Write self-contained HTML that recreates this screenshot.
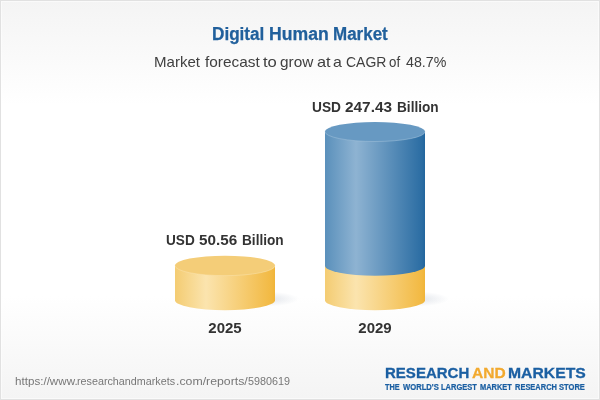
<!DOCTYPE html>
<html>
<head>
<meta charset="utf-8">
<title>Digital Human Market</title>
<style>
html,body{margin:0;padding:0;}
body{width:600px;height:400px;overflow:hidden;position:relative;font-family:"Liberation Sans",sans-serif;background:#fff;}
#card{position:absolute;left:0;top:0;width:598px;height:398px;border:1px solid #e1e1e1;
 background:linear-gradient(to bottom,#f4f4f4 0%,#ffffff 26%,#ffffff 74%,#f4f4f4 100%);box-shadow:inset 0 0 0 1px rgba(255,255,255,0.5);}
svg{position:absolute;left:0;top:0;}
.ln{margin:0;padding:0;font-size:0;font-weight:normal;position:static;}
.t{position:absolute;white-space:nowrap;line-height:1;}
.c{transform-origin:50% 50%;text-align:center;}
.l{transform-origin:0 50%;}
.ti{font-size:18px;font-weight:bold;color:#21609c;-webkit-text-stroke:0.25px #21609c;}
.su{font-size:15px;color:#404040;}
.lab{font-size:15.5px;font-weight:bold;color:#333;}
.w{transform-origin:0 0;}
#y1{left:175px;width:100px;top:319.5px;transform:scaleX(0.97);}
#y2{left:325px;width:100px;top:319.5px;transform:scaleX(0.97);}
.ur{font-size:11px;color:#777;}
.lg{top:364.55px;font-size:15.5px;font-weight:bold;color:#1b5fa2;-webkit-text-stroke:0.3px #1b5fa2;}
#lg1{left:384.7px;transform:scaleX(0.969);}
#lg2{left:471.9px;transform:scaleX(1.001);color:#f2a92e;-webkit-text-stroke:0.3px #f2a92e;}
#lg3{left:507.9px;transform:scaleX(1.015);}
.tg{top:382.5px;font-size:15px;font-weight:bold;color:#1b5fa2;-webkit-text-stroke:0.4px #1b5fa2;transform-origin:0 0;}
</style>
</head>
<body>
<div id="card"></div>
<svg width="600" height="400" viewBox="0 0 600 400">
 <defs>
  <linearGradient id="gy" x1="0" y1="0" x2="1" y2="0">
   <stop offset="0" stop-color="#f4cc72"/>
   <stop offset="0.31" stop-color="#fbe4ae"/>
   <stop offset="0.97" stop-color="#f2b942"/>
   <stop offset="1" stop-color="#f0b438"/>
  </linearGradient>
  <linearGradient id="gb" x1="0" y1="0" x2="1" y2="0">
   <stop offset="0" stop-color="#5a90bb"/>
   <stop offset="0.31" stop-color="#8eb3d2"/>
   <stop offset="0.97" stop-color="#2b6da3"/>
   <stop offset="1" stop-color="#22659d"/>
  </linearGradient>
  <radialGradient id="sh" cx="0.5" cy="0.5" r="0.5">
   <stop offset="0" stop-color="#8090a8" stop-opacity="0.24"/>
   <stop offset="1" stop-color="#8090a8" stop-opacity="0"/>
  </radialGradient>
 </defs>
 <!-- shadows -->
 <ellipse cx="266" cy="299" rx="33" ry="7.5" fill="url(#sh)"/>
 <ellipse cx="416" cy="299" rx="33" ry="7.5" fill="url(#sh)"/>
 <!-- small cylinder -->
 <path d="M175 265.65 L175 300.2 A50 10 0 0 0 275 300.2 L275 265.65 Z" fill="url(#gy)"/>
 <ellipse cx="225" cy="265.65" rx="50" ry="10" fill="#f4cd78"/>
 <path d="M175 265.65 A50 10 0 0 0 275 265.65" fill="none" stroke="#fbe6b4" stroke-opacity="0.6" stroke-width="0.8"/>
 <!-- big cylinder -->
 <path d="M325 265.65 L325 300.2 A50 10 0 0 0 425 300.2 L425 265.65 Z" fill="url(#gy)"/>
 <path d="M325 131.75 L325 265.65 A50 10 0 0 0 425 265.65 L425 131.75 Z" fill="url(#gb)"/>
 <ellipse cx="375" cy="131.75" rx="50" ry="9.75" fill="#6799c2"/>
 <path d="M325 131.75 A50 9.75 0 0 0 425 131.75" fill="none" stroke="#a9c6de" stroke-opacity="0.6" stroke-width="0.8"/>
</svg>
<h1 class="ln"><span class="t ti w" style="left:211.8px;top:25px;transform:scaleX(0.952)">Digital</span> <span class="t ti w" style="left:268.8px;top:25px;transform:scaleX(0.979)">Human</span> <span class="t ti w" style="left:333.0px;top:25px;transform:scaleX(0.943)">Market</span></h1>
<p class="ln"><span class="t su w" style="left:153.75px;top:54px;transform:scaleX(1.004)">Market</span> <span class="t su w" style="left:205.0px;top:54px;transform:scaleX(1.026)">forecast</span> <span class="t su w" style="left:263.0px;top:54px;transform:scaleX(1.106)">to</span> <span class="t su w" style="left:280.0px;top:54px;transform:scaleX(1.024)">grow</span> <span class="t su w" style="left:316.7px;top:54px;transform:scaleX(1.087)">at</span> <span class="t su w" style="left:332.5px;top:54px;transform:scaleX(1.06)">a</span> <span class="t su w" style="left:345.8px;top:54px;transform:scaleX(0.932)">CAGR</span> <span class="t su w" style="left:389.3px;top:54px;transform:scaleX(0.885)">of</span> <span class="t su w" style="left:405.6px;top:54px;transform:scaleX(0.9485)">48.7%</span></p>
<div class="ln"><span class="t lab w" style="left:166.0px;top:231.8px;transform:scaleX(0.8777)">USD</span> <span class="t lab w" style="left:199.1px;top:231.8px;transform:scaleX(0.9832)">50.56</span> <span class="t lab w" style="left:241.8px;top:231.8px;transform:scaleX(0.8806)">Billion</span></div>
<div class="ln"><span class="t lab w" style="left:311.8px;top:99px;transform:scaleX(0.8835)">USD</span> <span class="t lab w" style="left:344.8px;top:99px;transform:scaleX(0.9929)">247.43</span> <span class="t lab w" style="left:396.5px;top:99px;transform:scaleX(0.8797)">Billion</span></div>
<div class="ln"><span id="y1" class="t c lab">2025</span></div>
<div class="ln"><span id="y2" class="t c lab">2029</span></div>
<div class="ln"><span class="t ur w" style="left:14.8px;top:375.9px;transform:scaleX(1.0560)">https://www.</span><span class="t ur w" style="left:77.3px;top:375.9px;transform:scaleX(0.9775)">researchandmarkets</span><span class="t ur w" style="left:176.3px;top:375.9px;transform:scaleX(1.1182)">.com/reports/</span><span class="t ur w" style="left:247.65px;top:375.9px;transform:scaleX(0.9796)">5980619</span></div>
<div class="ln"><span id="lg1" class="t l lg">RESEARCH</span> <span id="lg2" class="t l lg">AND</span> <span id="lg3" class="t l lg">MARKETS</span></div>
<div class="ln"><span class="t tg" style="left:385.4px;transform:scale(0.489,0.55)">THE</span> <span class="t tg" style="left:402.5px;transform:scale(0.509,0.55)">WORLD'S</span> <span class="t tg" style="left:440.7px;transform:scale(0.5007,0.55)">LARGEST</span> <span class="t tg" style="left:479.7px;transform:scale(0.497,0.55)">MARKET</span> <span class="t tg" style="left:514.7px;transform:scale(0.4985,0.55)">RESEARCH</span> <span class="t tg" style="left:559.25px;transform:scale(0.5035,0.55)">STORE</span></div>
</body>
</html>
